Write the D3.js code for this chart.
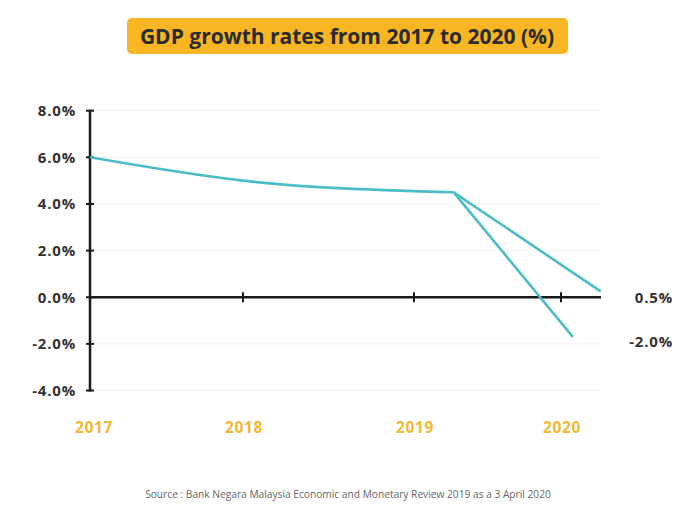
<!DOCTYPE html>
<html>
<head>
<meta charset="utf-8">
<script src="https://cdn.jsdelivr.net/npm/d3@7"></script>
<style>
  body { margin:0; background:#ffffff; }
  text { font-family: "Open Sans", "DejaVu Sans", sans-serif; }
</style>
</head>
<body>
<svg></svg>
<script>
// values
var years = [2017, 2018, 2019, 2020];
var yTicks = [8, 6, 4, 2, 0, -2, -4];
var trendX = [2017, 2018, 2019.27];
var trendY = [6.0, 5.0, 4.5];
var highX = [2019.27, 2020.27];
var highY = [4.5, 0.25];
var lowX = [2019.27, 2020.08];
var lowY = [4.5, -1.7];
var endLabels = ["0.5%", "-2.0%"];
var endLabelY = [0, -1.9];
var title = "GDP growth rates from 2017 to 2020 (%)";
var source = "Source : Bank Negara Malaysia Economic and Monetary Review 2019 as a 3 April 2020";

var drawChart = function()
{
  var screen =
  {
    width: 686,
    height: 509
  }
  var svg = d3.select('svg')
              .attr('width',screen.width)
              .attr('height',screen.height)

  var xscale = d3.scaleLinear()
                .domain(years)
                .range([90,243,414,561]);
  var yscale = d3.scaleLinear()
                .domain([-4,8])
                .range([390.5,110.7]);
  var teal = '#4cbcc6';
  var orange = '#f8b622';
  var numFont = '"DejaVu Sans", sans-serif';
  var pct = function(d){ return d3.format('.1f')(d).replace('\u2212','-')+'%'; };

  // title box
  svg.append('rect')
     .attr('x',127).attr('y',18)
     .attr('width',441).attr('height',36)
     .attr('rx',5)
     .attr('fill',orange);
  svg.append('text')
     .attr('x',347).attr('y',44)
     .attr('text-anchor','middle')
     .attr('font-size',21)
     .attr('font-weight','bold')
     .attr('fill','#2b2b2b')
     .text(title);

  // faint grid
  svg.selectAll('.grid')
     .data(yTicks)
     .enter()
     .append('line')
     .attr('x1',90).attr('x2',600)
     .attr('y1',function(d){ return yscale(d); })
     .attr('y2',function(d){ return yscale(d); })
     .attr('stroke','#f1f1f1')
     .attr('stroke-width',1);

  // y axis
  var yAxis = d3.axisLeft(yscale)
                .tickValues(yTicks)
                .tickSize(0)
                .tickPadding(14)
                .tickFormat(pct);
  var ya = svg.append('g')
              .attr('transform','translate(90,0)')
              .call(yAxis);
  ya.select('.domain').remove();
  ya.selectAll('text')
    .attr('font-size',15)
    .attr('font-weight','bold')
    .attr('letter-spacing',0.8)
    .attr('fill','#333')
    .attr('font-family',numFont);
  svg.append('line')
     .attr('x1',90).attr('x2',90)
     .attr('y1',yscale(8)-1).attr('y2',yscale(-4)+1)
     .attr('stroke','#1a1a1a').attr('stroke-width',2.5);
  svg.selectAll('.ytick')
     .data(yTicks)
     .enter()
     .append('line')
     .attr('x1',86).attr('x2',94)
     .attr('y1',function(d){ return yscale(d); })
     .attr('y2',function(d){ return yscale(d); })
     .attr('stroke','#1a1a1a').attr('stroke-width',2);

  // zero line with year ticks
  svg.append('line')
     .attr('x1',90).attr('x2',601)
     .attr('y1',yscale(0)).attr('y2',yscale(0))
     .attr('stroke','#1a1a1a').attr('stroke-width',2.5);
  svg.selectAll('.xtick')
     .data(years.slice(1))
     .enter()
     .append('line')
     .attr('x1',function(d){ return xscale(d); })
     .attr('x2',function(d){ return xscale(d); })
     .attr('y1',yscale(0)-5).attr('y2',yscale(0)+5)
     .attr('stroke','#1a1a1a').attr('stroke-width',2);

  // year labels
  svg.selectAll('.year')
     .data(years)
     .enter()
     .append('text')
     .attr('x',function(d,i){ return xscale(d)+ (i==0 ? 4 : 1); })
     .attr('y',433)
     .attr('text-anchor','middle')
     .attr('font-size',15.5)
     .attr('font-weight','bold')
     .attr('letter-spacing',0.6)
     .attr('font-family',numFont)
     .attr('fill','#f4b835')
     .text(function(d){ return d; });

  // lines
  var line = d3.line()
               .x(function(d){ return xscale(d[0]); })
               .y(function(d){ return yscale(d[1]); });
  svg.append('path')
     .datum(d3.zip(trendX,trendY))
     .attr('d',line.curve(d3.curveMonotoneX))
     .attr('fill','none').attr('stroke',teal).attr('stroke-width',2.6);
  line.curve(d3.curveLinear);
  [d3.zip(highX,highY), d3.zip(lowX,lowY)].forEach(function(seg)
  {
    svg.append('path')
       .datum(seg)
       .attr('d',line)
       .attr('fill','none').attr('stroke',teal).attr('stroke-width',2.6);
  });

  // end labels
  svg.selectAll('.endlab')
     .data(endLabels)
     .enter()
     .append('text')
     .attr('x',673)
     .attr('y',function(d,i){ return yscale(endLabelY[i])+5.5; })
     .attr('text-anchor','end')
     .attr('font-size',15)
     .attr('font-weight','bold')
     .attr('letter-spacing',0.8)
     .attr('font-family',numFont)
     .attr('fill','#333')
     .text(function(d){ return d; });

  // source
  svg.append('text')
     .attr('x',348).attr('y',498)
     .attr('text-anchor','middle')
     .attr('font-size',10.2)
     .attr('fill','#666')
     .text(source);
}
drawChart();
</script>
</body>
</html>
